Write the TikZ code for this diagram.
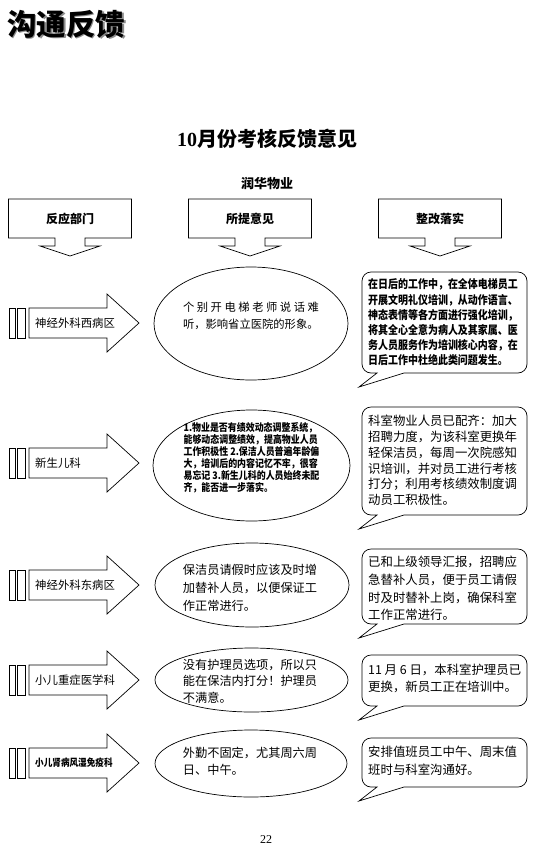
\documentclass[tikz,border=0pt]{standalone}
\usepackage{fontspec}
\setmainfont{Liberation Serif}
\newfontfamily\cjk{Noto Sans CJK SC}
\newfontfamily\cjkc[FakeStretch=0.86]{Noto Sans CJK SC}
\usetikzlibrary{shapes.geometric}
\tikzset{
  shp/.style={draw=black, line width=0.7pt, fill=white},
  ell/.style={shp, ellipse, inner sep=0pt},
  txt/.style={inner sep=0pt, align=left},
  hdr/.style={inner sep=0pt, font=\cjk\bfseries\fontsize{12}{14}\selectfont},
}
\newcommand\hdrbox[4]{%
  \draw[shp] ({#1-61.5},199) -- ({#1+61.5},199) -- ({#1+61.5},238) -- ({#1+15},238) -- ({#1+15},246) -- ({#1+30},246) -- (#1,256) -- ({#1-30},246) -- ({#1-15},246) -- ({#1-15},238) -- ({#1-61.5},238) -- cycle;
  \node[hdr] (#2) at (#1,219) {#3};}
\newcommand\rowarrow[3]{%
  \draw[shp] (9,{#1-15}) rectangle (15,{#1+15});
  \draw[shp] (17,{#1-15}) rectangle (25,{#1+15});
  \draw[shp] (29,{#1-15}) -- (107,{#1-15}) -- (107,{#1-29}) -- (139,#1) -- (107,{#1+29}) -- (107,{#1+15}) -- (29,{#1+15}) -- cycle;
  \node[inner sep=0pt, anchor=west] (#2) at (35,#1) {#3};}
\newcommand\callout[4]{%
  \draw[shp] ({#1+42},#4) -- ({#3-9},#4) arc (90:0:9) -- (#3,{#2+9}) arc (0:-90:9) -- ({#1+9},#2) arc (-90:-180:9) -- (#1,{#4-9}) arc (180:90:9) -- ({#1+15},#4) -- ({#1-3},{#4+14}) -- cycle;}
\begin{document}
\begin{tikzpicture}[x=1pt,y=-1pt]
\path[fill=white,use as bounding box] (0,0) rectangle (541,849);
% title
\node[inner sep=0pt, anchor=west, text=black!45, font=\cjk\bfseries\fontsize{29.5}{32}\selectfont] at (8.5,25.5) {沟通反馈};
\node[inner sep=0pt, anchor=west, font=\cjk\bfseries\fontsize{29.5}{32}\selectfont] (title) at (7,24) {沟通反馈};
\node[inner sep=0pt, font=\bfseries\fontsize{20}{23}\selectfont] (sub) at (267,139) {10{\cjk 月份考核反馈意见}};
\node[inner sep=0pt, font=\cjk\bfseries\fontsize{13}{15}\selectfont] (co) at (267,183) {润华物业};
% headers
\hdrbox{70}{h1}{反应部门}{}
\hdrbox{250}{h2}{所提意见}{}
\hdrbox{440}{h3}{整改落实}{}
% row arrows
\rowarrow{323}{d1}{\cjk\fontsize{11.4}{13}\selectfont 神经外科西病区}
\rowarrow{463}{d2}{\cjk\fontsize{11.4}{13}\selectfont 新生儿科}
\rowarrow{585}{d3}{\cjk\fontsize{11.4}{13}\selectfont 神经外科东病区}
\rowarrow{680}{d4}{\cjk\fontsize{11.4}{13}\selectfont 小儿重症医学科}
\rowarrow{763}{d5}{\cjkc\bfseries\fontsize{10}{12}\selectfont 小儿肾病风湿免疫科}
% ellipses
\node[ell, minimum width=194pt, minimum height=113pt] (e1) at (251,323.5) {};
\node[txt, font=\cjk\fontsize{11.3}{17}\selectfont] (e1t) at (251,315.5) {\makebox[136pt][l]{个\hfill 别\hfill 开\hfill 电\hfill 梯\hfill 老\hfill 师\hfill 说\hfill 话\hfill 难}\\听，影响省立医院的形象。};
\node[ell, minimum width=197pt, minimum height=111pt] (e2) at (251.5,465.5) {};
\node[txt, font=\cjkc\bfseries\fontsize{10.4}{12}\selectfont] (e2t) at (251.5,458) {1.物业是否有绩效动态调整系统，\\能够动态调整绩效，提高物业人员\\工作积极性 2.保洁人员普遍年龄偏\\大，培训后的内容记忆不牢，很容\\易忘记 3.新生儿科的人员始终未配\\齐，能否进一步落实。};
\node[ell, minimum width=194pt, minimum height=84pt] (e3) at (252,585) {};
\node[txt, font=\cjk\fontsize{12.2}{18}\selectfont] (e3t) at (250,588) {保洁员请假时应该及时增\\加替补人员，以便保证工\\作正常进行。};
\node[ell, minimum width=193pt, minimum height=64pt] (e4) at (251.5,680) {};
\node[txt, font=\cjk\fontsize{12.2}{16.5}\selectfont] (e4t) at (250,681) {没有护理员选项，所以只\\能在保洁内打分！护理员\\不满意。};
\node[ell, minimum width=192pt, minimum height=67pt] (e5) at (251,763.5) {};
\node[txt, font=\cjk\fontsize{12.2}{17}\selectfont] (e5t) at (250,761.5) {外勤不固定，尤其周六周\\日、中午。};
% callouts
\callout{362}{272}{527}{373}
\node[txt, anchor=west, font=\cjkc\bfseries\fontsize{11.6}{15.2}\selectfont] (c1) at (368,322.5) {在日后的工作中，在全体电梯员工\\开展文明礼仪培训，从动作语言、\\神态表情等各方面进行强化培训，\\将其全心全意为病人及其家属、医\\务人员服务作为培训核心内容，在\\日后工作中杜绝此类问题发生。};
\callout{362}{407}{527}{515}
\node[txt, anchor=west, font=\cjk\fontsize{12.4}{15.8}\selectfont] (c2) at (368,460.5) {科室物业人员已配齐：加大\\招聘力度，为该科室更换年\\轻保洁员，每周一次院感知\\识培训，并对员工进行考核\\打分；利用考核绩效制度调\\动员工积极性。};
\callout{362}{549}{527}{624}
\node[txt, anchor=west, font=\cjk\fontsize{12.4}{17.7}\selectfont] (c3) at (368,588.5) {已和上级领导汇报，招聘应\\急替补人员，便于员工请假\\时及时替补上岗，确保科室\\工作正常进行。};
\callout{362}{655}{527}{706}
\node[txt, anchor=west, font=\cjk\fontsize{12.4}{17}\selectfont] (c4) at (368,678.5) {11 月 6 日，本科室护理员已\\更换，新员工正在培训中。};
\callout{362}{738}{527}{787}
\node[txt, anchor=west, font=\cjk\fontsize{12.4}{18}\selectfont] (c5) at (368,761) {安排值班员工中午、周末值\\班时与科室沟通好。};
% page number
\node[inner sep=0pt, font=\fontsize{12}{14}\selectfont] (pg) at (266,840) {22};
\end{tikzpicture}
\end{document}
